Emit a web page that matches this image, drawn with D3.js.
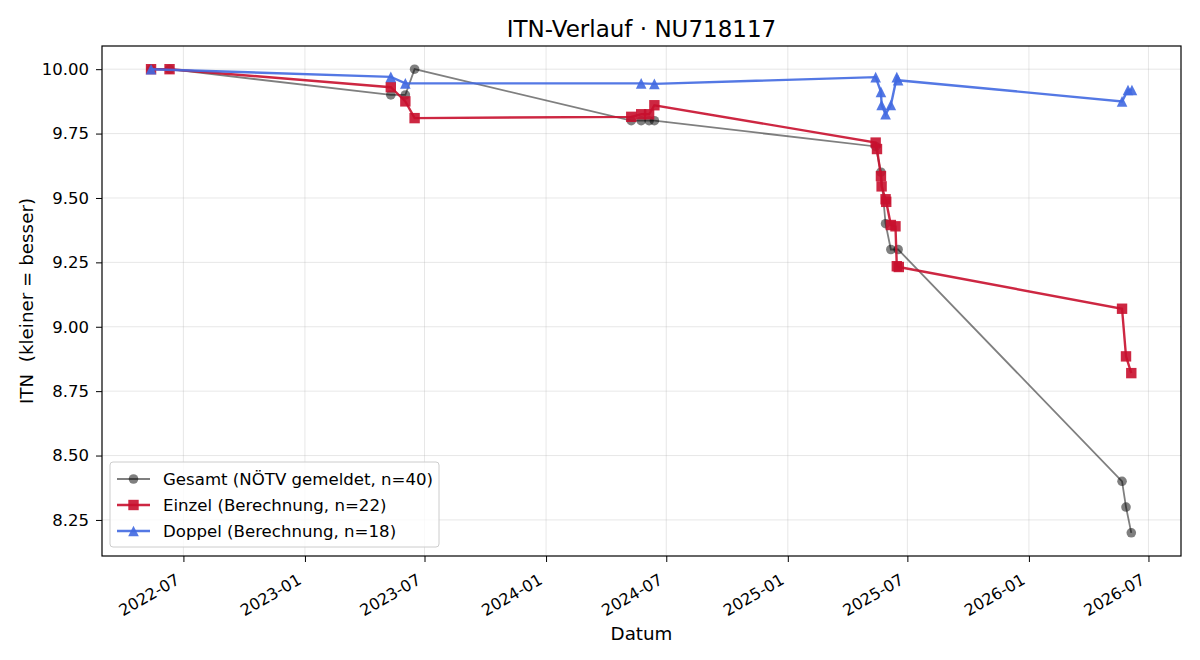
<!DOCTYPE html>
<html>
<head>
<meta charset="utf-8">
<script src="https://cdn.jsdelivr.net/npm/d3@7"></script>
<style>
  body { margin: 0; background: #fff; }
  text { font-family: "DejaVu Sans", sans-serif; fill: #000; }
</style>
</head>
<body>
<div id="chart-area"></div>
<script>
// Data
var gesamtDates = ["2022-05-13","2022-06-10","2023-05-11","2023-06-02","2023-06-16",
  "2024-05-09","2024-05-24","2024-06-05","2024-06-13",
  "2025-05-14","2025-05-22","2025-05-29","2025-06-06","2025-06-17",
  "2026-05-22","2026-05-28","2026-06-05"];
var gesamtValues = [10.0,10.0,9.9,9.9,10.0, 9.8,9.8,9.8,9.8, 9.7,9.6,9.4,9.3,9.3, 8.4,8.3,8.2];

var einzelDates = ["2022-05-13","2022-06-10","2023-05-11","2023-06-02","2023-06-16",
  "2024-05-09","2024-05-24","2024-06-05","2024-06-13",
  "2025-05-14","2025-05-16","2025-05-22","2025-05-23","2025-05-29","2025-05-30",
  "2025-06-06","2025-06-13","2025-06-15","2025-06-18",
  "2026-05-22","2026-05-28","2026-06-05"];
var einzelValues = [10.0,10.0,9.93,9.875,9.81, 9.815,9.825,9.825,9.86,
  9.715,9.69,9.585,9.545,9.495,9.485, 9.395,9.39,9.235,9.232, 9.07,8.885,8.82];

var doppelDates = ["2022-05-13","2023-05-11","2023-06-02","2024-05-24","2024-06-13",
  "2025-05-14","2025-05-22","2025-05-23","2025-05-29","2025-06-06","2025-06-15","2025-06-17",
  "2026-05-22","2026-05-31","2026-06-06"];
var doppelValues = [10.0,9.97,9.945,9.945,9.943, 9.969,9.912,9.861,9.825,9.861,9.969,9.957, 9.875,9.919,9.919];

var yTicks = [8.25,8.50,8.75,9.00,9.25,9.50,9.75,10.00];
var xTickLabels = ["2022-07","2023-01","2023-07","2024-01","2024-07","2025-01","2025-07","2026-01","2026-07"];
var legendLabels = ["Gesamt (NÖTV gemeldet, n=40)","Einzel (Berechnung, n=22)","Doppel (Berechnung, n=18)"];

var margin = { top: 46, right: 19, bottom: 104, left: 102 };
var W = 1200, H = 660;
var width = W - margin.left - margin.right;
var height = H - margin.top - margin.bottom;

var parse = d3.timeParse("%Y-%m-%d");
var parseM = d3.timeParse("%Y-%m");

function zip(dates, values) {
  return dates.map(function(d, i) { return { date: parse(d), value: values[i] }; });
}
var gesamt = zip(gesamtDates, gesamtValues);
var einzel = zip(einzelDates, einzelValues);
var doppel = zip(doppelDates, doppelValues);
var all = gesamt.concat(einzel, doppel);

// matplotlib style 5% padding
var xExt = d3.extent(all, function(d) { return +d.date; });
var xPad = (xExt[1] - xExt[0]) * 0.05;
var yExt = d3.extent(all, function(d) { return d.value; });
var yPad = (yExt[1] - yExt[0]) * 0.05;

var x = d3.scaleTime()
  .domain([new Date(xExt[0] - xPad), new Date(xExt[1] + xPad)])
  .range([0, width]);
var y = d3.scaleLinear()
  .domain([yExt[0] - yPad, yExt[1] + yPad])
  .range([height, 0]);

var svg = d3.select("#chart-area").append("svg")
  .attr("width", W).attr("height", H);

var g = svg.append("g")
  .attr("transform", "translate(" + margin.left + "," + margin.top + ")");

var xTickDates = xTickLabels.map(function(s) { return parseM(s); });

// grid
g.append("g").selectAll("line").data(yTicks).enter().append("line")
  .attr("x1", 0).attr("x2", width)
  .attr("y1", function(d) { return y(d); }).attr("y2", function(d) { return y(d); })
  .attr("stroke", "#b0b0b0").attr("stroke-opacity", 0.3).attr("stroke-width", 1);
g.append("g").selectAll("line").data(xTickDates).enter().append("line")
  .attr("y1", 0).attr("y2", height)
  .attr("x1", function(d) { return x(d); }).attr("x2", function(d) { return x(d); })
  .attr("stroke", "#b0b0b0").attr("stroke-opacity", 0.3).attr("stroke-width", 1);

// axes
var xAxis = d3.axisBottom(x).tickValues(xTickDates).tickSize(6).tickPadding(3)
  .tickFormat(d3.timeFormat("%Y-%m"));
var xAxisGroup = g.append("g").attr("transform", "translate(0," + height + ")").call(xAxis);
xAxisGroup.select(".domain").remove();
xAxisGroup.selectAll("line").attr("stroke", "#000").attr("stroke-width", 1);
xAxisGroup.selectAll("text")
  .attr("font-size", 16)
  .attr("text-anchor", "end")
  .attr("y", 0).attr("dy", 0)
  .attr("transform", "translate(-3,27) rotate(-30)");

var yAxis = d3.axisLeft(y).tickValues(yTicks).tickSize(6).tickPadding(7)
  .tickFormat(d3.format(".2f"));
var yAxisGroup = g.append("g").call(yAxis);
yAxisGroup.select(".domain").remove();
yAxisGroup.selectAll("line").attr("stroke", "#000").attr("stroke-width", 1);
yAxisGroup.selectAll("text").attr("font-size", 16.5);

// frame
g.append("rect").attr("width", width).attr("height", height)
  .attr("fill", "none").attr("stroke", "#000").attr("stroke-width", 1.2);

var line = d3.line()
  .x(function(d) { return x(d.date); })
  .y(function(d) { return y(d.value); });

function square(s) {
  return "M" + (-s) + "," + (-s) + "H" + s + "V" + s + "H" + (-s) + "Z";
}
function triangle(s) {
  return "M0," + (-s) + "L" + s + "," + s + "L" + (-s) + "," + s + "Z";
}

// Gesamt
g.append("path").datum(gesamt).attr("d", line)
  .attr("fill", "none").attr("stroke", "#000").attr("stroke-opacity", 0.5).attr("stroke-width", 1.8);
g.append("g").selectAll("circle").data(gesamt).enter().append("circle")
  .attr("cx", function(d) { return x(d.date); })
  .attr("cy", function(d) { return y(d.value); })
  .attr("r", 4.8).attr("fill", "#000").attr("fill-opacity", 0.5);

// Einzel
var red = "#c8102e";
g.append("path").datum(einzel).attr("d", line)
  .attr("fill", "none").attr("stroke", red).attr("stroke-opacity", 0.9).attr("stroke-width", 2.4);
g.append("g").selectAll("path").data(einzel).enter().append("path")
  .attr("d", square(5.2))
  .attr("transform", function(d) { return "translate(" + x(d.date) + "," + y(d.value) + ")"; })
  .attr("fill", red).attr("fill-opacity", 0.9);

// Doppel
var blue = "#4169e1";
g.append("path").datum(doppel).attr("d", line)
  .attr("fill", "none").attr("stroke", blue).attr("stroke-opacity", 0.9).attr("stroke-width", 2.4);
g.append("g").selectAll("path").data(doppel).enter().append("path")
  .attr("d", triangle(5.3))
  .attr("transform", function(d) { return "translate(" + x(d.date) + "," + y(d.value) + ")"; })
  .attr("fill", blue).attr("fill-opacity", 0.9);

// title and labels
svg.append("text").attr("x", margin.left + width / 2).attr("y", 37)
  .attr("text-anchor", "middle").attr("font-size", 23).text("ITN-Verlauf · NU718117");
svg.append("text").attr("x", margin.left + width / 2).attr("y", 640)
  .attr("text-anchor", "middle").attr("font-size", 18.3).text("Datum");
svg.append("text")
  .attr("transform", "translate(33," + (margin.top + height / 2) + ") rotate(-90)")
  .attr("text-anchor", "middle").attr("font-size", 18.3)
  .style("white-space", "pre").text("ITN  (kleiner = besser)");

// legend
var leg = g.append("g").attr("transform", "translate(8,416)");
leg.append("rect").attr("width", 329).attr("height", 85).attr("rx", 3)
  .attr("fill", "#fff").attr("fill-opacity", 0.8).attr("stroke", "#ccc");
var legStyles = [
  { color: "#000", op: 0.5, sw: 1.8, shape: "circle" },
  { color: red, op: 0.9, sw: 2.4, shape: "square" },
  { color: blue, op: 0.9, sw: 2.4, shape: "triangle" }
];
legendLabels.forEach(function(lbl, i) {
  var row = leg.append("g").attr("transform", "translate(0," + (17 + i * 26) + ")");
  var st = legStyles[i];
  row.append("line").attr("x1", 7).attr("x2", 40).attr("y1", 0).attr("y2", 0)
    .attr("stroke", st.color).attr("stroke-opacity", st.op).attr("stroke-width", st.sw);
  if (st.shape === "circle") {
    row.append("circle").attr("cx", 23.5).attr("cy", 0).attr("r", 4.8)
      .attr("fill", st.color).attr("fill-opacity", st.op);
  } else {
    row.append("path").attr("d", st.shape === "square" ? square(5.2) : triangle(5.3))
      .attr("transform", "translate(23.5,0)").attr("fill", st.color).attr("fill-opacity", st.op);
  }
  row.append("text").attr("x", 53).attr("y", 0).attr("dy", "0.35em")
    .attr("font-size", 16.6).text(lbl);
});
</script>
</body>
</html>
